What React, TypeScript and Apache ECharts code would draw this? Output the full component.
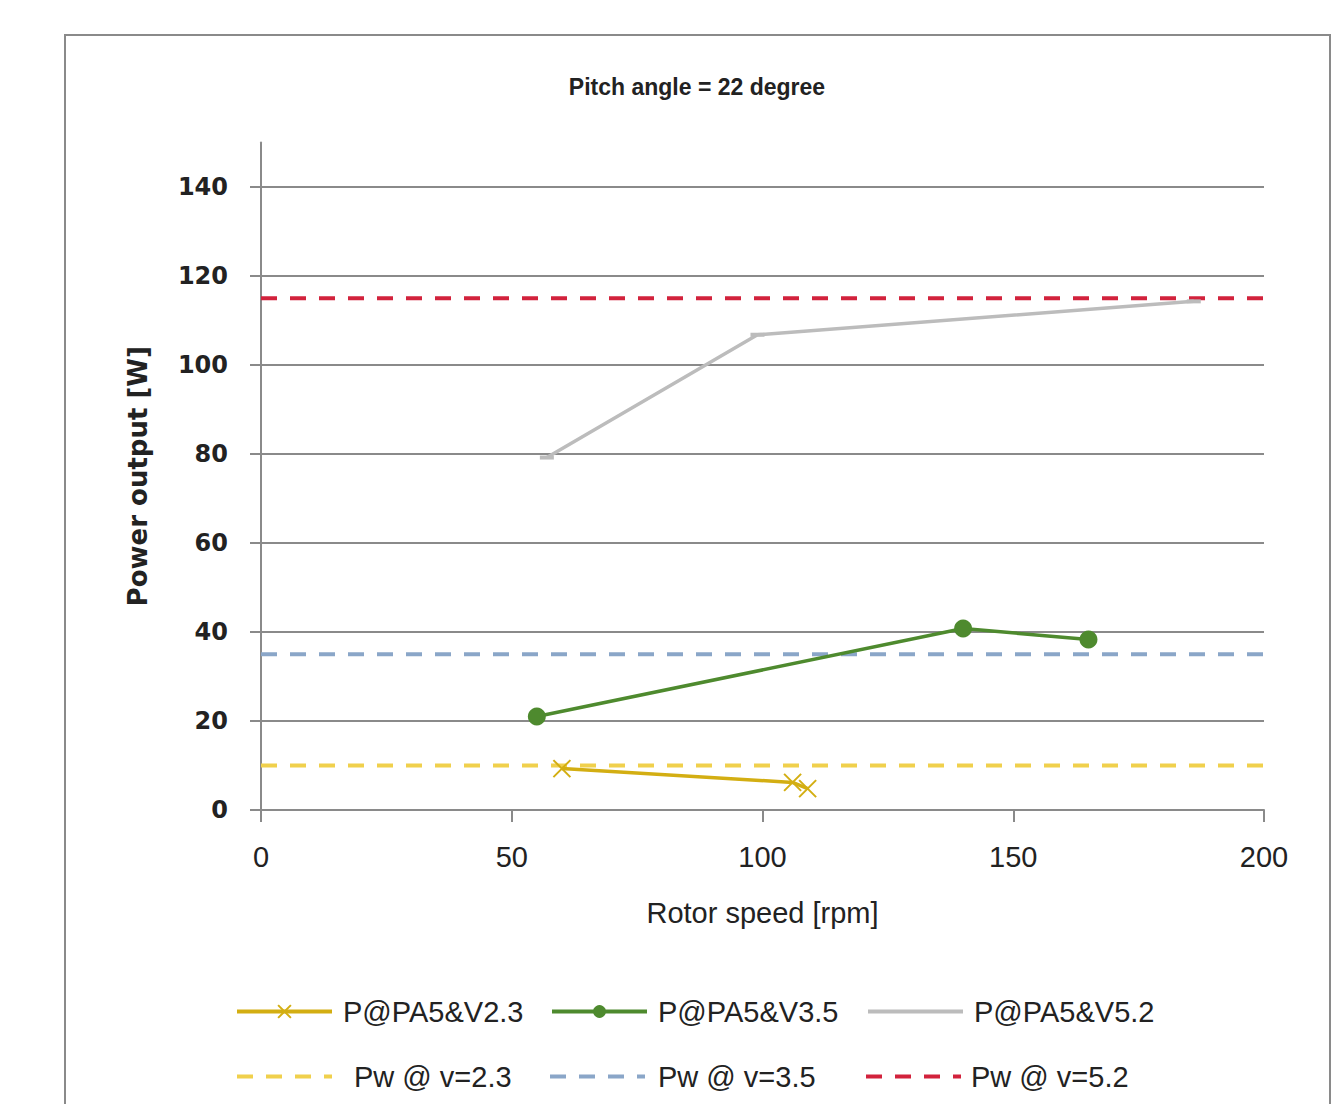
import React, { useEffect, useRef } from "react";
import * as echarts from "echarts";

const chartTitle = "Pitch angle = 22 degree";
const xAxisName = "Rotor speed [rpm]";
const yAxisName = "Power output [W]";
const yTickValues = [0, 20, 40, 60, 80, 100, 120, 140];

const v23Speed = [60, 106, 109];
const v23Power = [9.3, 6.2, 4.8];
const v35Speed = [55, 140, 165];
const v35Power = [21, 40.8, 38.3];
const v52Speed = [57, 99, 186];
const v52Power = [79.2, 106.8, 114.3];

const pwSpeedRange = [0, 200];
const pw23 = 10;
const pw35 = 35;
const pw52 = 115;

const names = ["P@PA5&V2.3", "P@PA5&V3.5", "P@PA5&V5.2", "Pw @ v=2.3", "Pw @ v=3.5", "Pw @ v=5.2"];

const zip = (xs: number[], ys: number[]) => xs.map((x, i) => [x, ys[i]]);
const flat = (v: number) => pwSpeedRange.map((x) => [x, v]);

const labelFont = "'Liberation Sans Narrow', 'Liberation Sans', sans-serif";

export default function App() {
  const ref = useRef<HTMLDivElement>(null);
  useEffect(() => {
    const chart = echarts.init(ref.current!, null, { renderer: "svg" });
    const mkLegend = (name: string, left: number, top: number, textPad: number, hideSymbol: boolean) => ({
      data: [name],
      left,
      top,
      itemWidth: 95,
      itemHeight: 16,
      itemGap: 0,
      textStyle: { fontSize: 29, color: "#222", fontFamily: labelFont, padding: [0, 0, 0, textPad] },
      padding: 0,
      lineStyle: { width: 4 },
      ...(hideSymbol ? { itemStyle: { opacity: 0 } } : {}),
    });
    chart.setOption({
      animation: false,
      backgroundColor: "#ffffff",
      title: {
        text: chartTitle,
        left: 692,
        top: 70,
        textAlign: "center",
        textStyle: { fontSize: 23, fontWeight: "bold", color: "#222", fontFamily: labelFont },
      },
      graphic: [
        {
          type: "rect",
          shape: { x: 65, y: 35, width: 1265, height: 1100 },
          style: { fill: "none", stroke: "#8a8a8a", lineWidth: 2 },
          silent: true,
        },
      ],
      legend: [
        mkLegend(names[0], 235, 997, 6, false),
        mkLegend(names[1], 550, 997, 6, false),
        mkLegend(names[2], 866, 997, 6, true),
        mkLegend(names[3], 235, 1062, 17, true),
        mkLegend(names[4], 548, 1062, 8, true),
        mkLegend(names[5], 864, 1062, 5, true),
      ],
      grid: { left: 261, right: 69, top: 142.5, bottom: 294, containLabel: false },
      xAxis: {
        type: "value",
        min: 0,
        max: 200,
        interval: 50,
        name: xAxisName,
        nameLocation: "middle",
        nameGap: 88,
        nameTextStyle: { fontSize: 29, color: "#222", fontFamily: labelFont },
        axisLine: { show: true, onZero: false, lineStyle: { color: "#8a8a8a", width: 2 } },
        axisTick: { show: true, length: 12, lineStyle: { color: "#8a8a8a", width: 2 } },
        axisLabel: { margin: 32, fontSize: 29, color: "#222", fontFamily: labelFont },
        splitLine: { show: false },
      },
      yAxis: {
        type: "value",
        min: 0,
        max: 150,
        interval: 20,
        name: yAxisName,
        nameLocation: "middle",
        nameGap: 110,
        nameTextStyle: { fontSize: 26, color: "#222", fontWeight: "bold", fontFamily: "'DejaVu Sans', sans-serif" },
        axisLine: { show: true, lineStyle: { color: "#8a8a8a", width: 2 } },
        axisTick: {
          show: true,
          length: 11,
          customValues: yTickValues,
          lineStyle: { color: "#8a8a8a", width: 2 },
        },
        axisLabel: {
          margin: 33,
          fontSize: 24,
          fontWeight: "bold",
          color: "#222",
          fontFamily: "'DejaVu Sans', sans-serif",
          customValues: yTickValues,
        },
        splitLine: { show: true, lineStyle: { color: "#8a8a8a", width: 2 } },
      },
      series: [
        {
          name: names[3],
          type: "line",
          data: flat(pw23),
          symbol: "none",
          lineStyle: { color: "#f0d04c", width: 4, type: [16, 13] },
          itemStyle: { color: "#f0d04c" },
          z: 2,
        },
        {
          name: names[4],
          type: "line",
          data: flat(pw35),
          symbol: "none",
          lineStyle: { color: "#8aa6c8", width: 4, type: [16, 13] },
          itemStyle: { color: "#8aa6c8" },
          z: 2,
        },
        {
          name: names[5],
          type: "line",
          data: flat(pw52),
          symbol: "none",
          lineStyle: { color: "#d2223c", width: 4, type: [16, 13] },
          itemStyle: { color: "#d2223c" },
          z: 2,
        },
        {
          name: names[0],
          type: "line",
          data: zip(v23Speed, v23Power),
          symbol: "path://M0,0L10,10M10,0L0,10",
          symbolSize: 17,
          lineStyle: { color: "#d3ae12", width: 3.5 },
          itemStyle: { color: "#d3ae12", borderColor: "#d3ae12", borderWidth: 2 },
          z: 3,
        },
        {
          name: names[1],
          type: "line",
          data: zip(v35Speed, v35Power),
          symbol: "circle",
          symbolSize: 18,
          lineStyle: { color: "#4e8a2e", width: 3.5 },
          itemStyle: { color: "#4e8a2e" },
          z: 3,
        },
        {
          name: names[2],
          type: "line",
          data: zip(v52Speed, v52Power),
          symbol: "rect",
          symbolSize: [14, 4],
          lineStyle: { color: "#bcbcbc", width: 3.5 },
          itemStyle: { color: "#bcbcbc" },
          z: 3,
        },
      ],
    });
    return () => chart.dispose();
  }, []);
  return (
    <div
      ref={ref}
      style={{ position: "fixed", left: 0, top: 0, width: 1333, height: 1104, background: "#fff" }}
    />
  );
}
